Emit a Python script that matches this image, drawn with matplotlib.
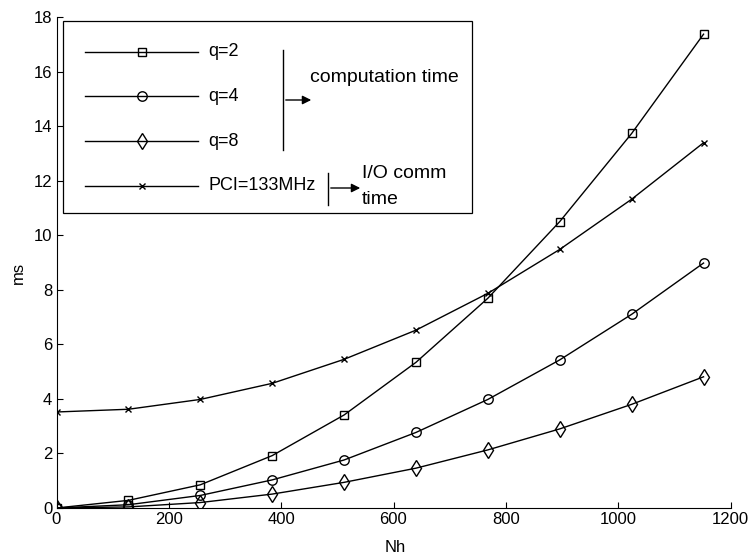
import matplotlib
matplotlib.use("Agg")
import matplotlib.pyplot as plt
from matplotlib.lines import Line2D

plt.rcParams['font.family'] = ['Liberation Sans', 'DejaVu Sans']

# data
nh = [0, 128, 256, 384, 512, 640, 768, 896, 1024, 1152]
q2 = [0.0, 0.28, 0.85, 1.92, 3.41, 5.34, 7.69, 10.5, 13.73, 17.37]
q4 = [0.0, 0.12, 0.46, 1.03, 1.76, 2.77, 3.98, 5.43, 7.1, 8.98]
q8 = [0.0, 0.04, 0.2, 0.51, 0.94, 1.46, 2.13, 2.9, 3.8, 4.81]
pci = [3.52, 3.62, 3.98, 4.57, 5.45, 6.52, 7.87, 9.48, 11.32, 13.39]

labels = ['q=2', 'q=4', 'q=8', 'PCI=133MHz']
markers = ['s', 'o', 'd', 'x']
msizes = [5.8, 6.8, 8, 5]
xticks = [0, 200, 400, 600, 800, 1000, 1200]
yticks = [0, 2, 4, 6, 8, 10, 12, 14, 16, 18]

W, H = 752, 557
fig = plt.figure(figsize=(W / 100, H / 100), dpi=100)
ax = fig.add_axes([56.5 / W, 1 - 508 / H, (730.5 - 56.5) / W, (508 - 17) / H])

lines = []
for ys, m, ms, lab in zip([q2, q4, q8, pci], markers, msizes, labels):
    ln, = ax.plot(nh, ys, color='black', lw=1.0, marker=m, ms=ms,
                  mfc='none', mec='black', mew=1.0, label=lab)
    lines.append(ln)

ax.set_xlim(0, 1200)
ax.set_ylim(0, 18)
ax.set_xticks(xticks)
ax.set_yticks(yticks)
ax.tick_params(direction='in', length=4, width=0.8, labelsize=12, pad=3)
for s in ['top', 'right']:
    ax.spines[s].set_visible(False)
for s in ['left', 'bottom']:
    ax.spines[s].set_linewidth(0.8)
ax.set_xlabel('Nh', fontsize=12)
ax.set_ylabel('ms', fontsize=12)
ax.xaxis.set_label_coords((395 - 56.5) / (730.5 - 56.5), -(547 - 508) / (508 - 17))
ax.yaxis.set_label_coords(-(56.5 - 18) / (730.5 - 56.5), (508 - 273) / (508 - 17))
ax.xaxis.label.set_va('center')
ax.yaxis.label.set_va('center')


# legend frame and entries, placed in figure pixels
def fx(px):
    return px / W


def fy(py):
    return 1 - py / H


fig.patches.append(plt.Rectangle((fx(63), fy(213)), fx(472) - fx(63), fy(21) - fy(213),
                                 transform=fig.transFigure, fill=False,
                                 edgecolor='black', lw=0.9, zorder=5))
rows = [52, 96, 141, 186]
for ln, lab, ry in zip(lines, labels, rows):
    fig.add_artist(Line2D([fx(85), fx(198)], [fy(ry), fy(ry)], color='black', lw=1.0))
    fig.add_artist(Line2D([fx(142)], [fy(ry)], color='black', marker=ln.get_marker(),
                          ms=ln.get_markersize(), mfc='none', mec='black', mew=1.0))
    fig.text(fx(208), fy(ry), lab, fontsize=13, va='center', ha='left')

# brackets with arrows
fig.add_artist(Line2D([fx(283), fx(283)], [fy(50), fy(150)], color='black', lw=1.0))
ax.annotate('', xy=(fx(314), fy(100)), xytext=(fx(283), fy(100)),
            xycoords='figure fraction', textcoords='figure fraction',
            arrowprops=dict(arrowstyle='-|>', color='black', lw=1.0, mutation_scale=13))
fig.text(fx(310), fy(78), 'computation time', fontsize=14, va='center', ha='left')

fig.add_artist(Line2D([fx(328), fx(328)], [fy(173), fy(205)], color='black', lw=1.0))
ax.annotate('', xy=(fx(363), fy(188)), xytext=(fx(328), fy(188)),
            xycoords='figure fraction', textcoords='figure fraction',
            arrowprops=dict(arrowstyle='-|>', color='black', lw=1.0, mutation_scale=13))
fig.text(fx(362), fy(174), 'I/O comm', fontsize=14, va='center', ha='left')
fig.text(fx(362), fy(200), 'time', fontsize=14, va='center', ha='left')

fig.savefig('out.png', dpi=100)
